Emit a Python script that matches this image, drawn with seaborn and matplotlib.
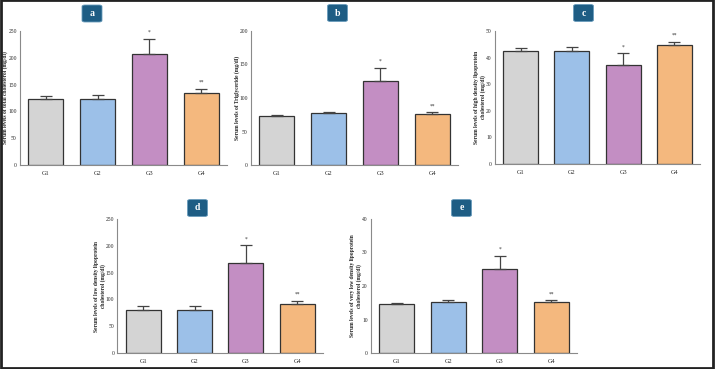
import numpy as np
import pandas as pd
import matplotlib
matplotlib.use("Agg")
import matplotlib.pyplot as plt
import seaborn as sns
from matplotlib.patches import FancyBboxPatch, Rectangle

groups = ["G1", "G2", "G3", "G4"]
bar_colors = ["#d4d4d4", "#9cc0e8", "#c38ec3", "#f4b87e"]

# mean values and upper error (SE) per panel
tc_mean = [123, 123, 207, 135]
tc_err = [6, 7, 28, 7]
tg_mean = [72.5, 77, 126, 76]
tg_err = [1.5, 2.5, 19, 2.5]
hdl_mean = [42.5, 42.5, 37.2, 44.8]
hdl_err = [1.0, 1.6, 4.4, 1.1]
ldl_mean = [80, 80, 168, 90.5]
ldl_err = [7, 8, 33, 7]
vldl_mean = [14.5, 15.3, 25, 15.1]
vldl_err = [0.3, 0.4, 4.1, 0.6]

star_g3 = "*"
star_g4 = "**"

panels = [
    dict(tag="a", mean=tc_mean, err=tc_err, ymax=250, step=50,
         ylabel="Serum levels of total cholesterol (mg/dl)",
         rect=[20, 31, 227, 165], box=(92, 13.5), label_x=5.5),
    dict(tag="b", mean=tg_mean, err=tg_err, ymax=200, step=50,
         ylabel="Serum levels of Triglyceride (mg/dl)",
         rect=[251, 31, 458, 165], box=(337.5, 13), label_x=237),
    dict(tag="c", mean=hdl_mean, err=hdl_err, ymax=50, step=10,
         ylabel="Serum levels of high density lipoprotein\ncholesterol (mg/dl)",
         rect=[495, 31, 700, 164], box=(583.5, 13), label_x=480),
    dict(tag="d", mean=ldl_mean, err=ldl_err, ymax=250, step=50,
         ylabel="Serum levels of low density lipoprotein\ncholesterol (mg/dl)",
         rect=[117.5, 219, 323, 353], box=(197.5, 208), label_x=100),
    dict(tag="e", mean=vldl_mean, err=vldl_err, ymax=40, step=10,
         ylabel="Serum levels of very low density lipoprotein\ncholesterol (mg/dl)",
         rect=[371, 219, 577, 353], box=(461.5, 208), label_x=356),
]

sns.set_style("white")
plt.rcParams["font.family"] = ["Liberation Serif", "DejaVu Serif"]

W, H = 715, 369
fig = plt.figure(figsize=(W / 100, H / 100), dpi=100)

for p in panels:
    x0, y0, x1, y1 = p["rect"]
    ax = fig.add_axes([x0 / W, 1 - y1 / H, (x1 - x0) / W, (y1 - y0) / H])
    df = pd.DataFrame({"group": groups, "value": p["mean"]})
    sns.barplot(data=df, x="group", y="value", hue="group", palette=bar_colors,
                saturation=1, width=0.68, edgecolor="#333333", linewidth=0.9,
                legend=False, errorbar=None, ax=ax)
    ax.errorbar(groups, p["mean"], yerr=[np.zeros(4), p["err"]], fmt="none",
                ecolor="#444444", elinewidth=0.9, capsize=4, capthick=0.9)
    pad = p["ymax"] * 0.03
    ax.text(2, p["mean"][2] + p["err"][2] + pad, star_g3, ha="center", va="bottom",
            fontsize=4, color="#333333")
    ax.text(3, p["mean"][3] + p["err"][3] + pad, star_g4, ha="center", va="bottom",
            fontsize=4, color="#333333")
    ax.set_xlim(-0.5, 3.5)
    ax.set_ylim(0, p["ymax"])
    ax.set_yticks(np.arange(0, p["ymax"] + 1, p["step"]))
    ax.set_xlabel("")
    ax.set_ylabel(p["ylabel"], fontsize=4, fontweight="bold", linespacing=1.1,
                  va="center")
    ax.yaxis.set_label_coords((p["label_x"] - x0) / (x1 - x0), 0.5)
    sns.despine(ax=ax)
    for s in ["left", "bottom"]:
        ax.spines[s].set_color("#8a8a8a")
        ax.spines[s].set_linewidth(0.8)
    ax.tick_params(axis="both", length=1.5, width=0.6, color="#8a8a8a",
                   labelsize=4, pad=0.8)
    ax.tick_params(axis="x", labelsize=4.5, pad=2.5)

    bx, by = p["box"]
    bw, bh = 20, 17
    fig.patches.append(FancyBboxPatch(((bx - bw / 2) / W, 1 - (by + bh / 2) / H),
                                      bw / W, bh / H,
                                      boxstyle="round,pad=0,rounding_size=0.004",
                                      transform=fig.transFigure, facecolor="#1e5d84",
                                      edgecolor="#6a9cbc", linewidth=0.6))
    fig.text(bx / W, 1 - by / H, p["tag"], ha="center", va="center", color="white",
             fontsize=7, fontweight="bold")

fig.patches.append(Rectangle((0.001, 0.003), 0.996, 0.996, transform=fig.transFigure,
                             fill=False, edgecolor="#222222", linewidth=2))

fig.savefig("out.png", dpi=100)
